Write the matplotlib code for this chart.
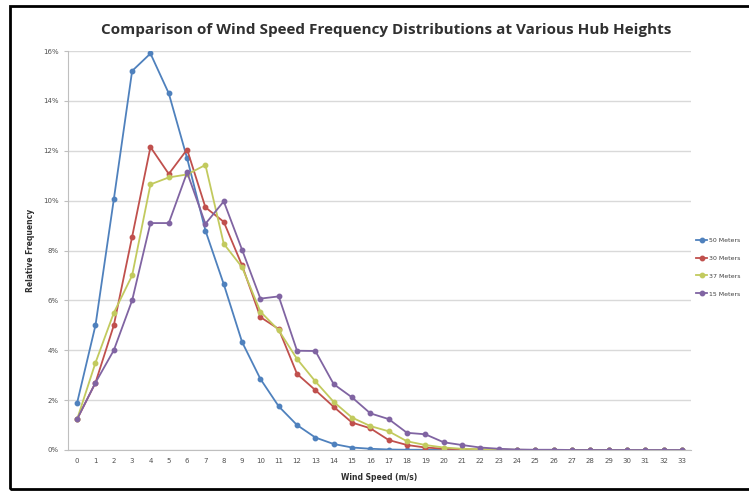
import matplotlib
matplotlib.use("Agg")
import matplotlib.pyplot as plt
from matplotlib.patches import Rectangle
from matplotlib.ticker import FuncFormatter, MultipleLocator

speeds = list(range(34))
labels = ["50 Meters", "30 Meters", "37 Meters", "15 Meters"]
s50 = [1.9, 5.0, 10.05, 15.2, 15.9, 14.3, 11.7, 8.8, 6.65, 4.33, 2.85, 1.75, 1.0, 0.5, 0.24, 0.1, 0.05,
       0.02, 0.01, 0.01, 0.0, 0.0, 0.0, 0.0, 0.0, 0.0, 0.0, 0.0, 0.0, 0.0, 0.0, 0.0, 0.0, 0.0]
s30 = [1.24, 2.7, 5.0, 8.55, 12.15, 11.07, 12.05, 9.73, 9.15, 7.4, 5.33, 4.85, 3.05, 2.4, 1.73, 1.1, 0.87,
       0.4, 0.2, 0.1, 0.05, 0.03, 0.02, 0.01, 0.0, 0.0, 0.0, 0.0, 0.0, 0.0, 0.0, 0.0, 0.0, 0.0]
s37 = [1.24, 3.5, 5.5, 7.0, 10.65, 10.93, 11.05, 11.43, 8.27, 7.33, 5.55, 4.8, 3.65, 2.75, 1.93, 1.3, 0.96,
       0.75, 0.35, 0.2, 0.1, 0.05, 0.03, 0.02, 0.01, 0.0, 0.0, 0.0, 0.0, 0.0, 0.0, 0.0, 0.0, 0.0]
s15 = [1.24, 2.7, 4.0, 6.0, 9.1, 9.1, 11.13, 9.07, 9.97, 8.03, 6.07, 6.16, 3.98, 3.97, 2.64, 2.11, 1.47,
       1.24, 0.69, 0.63, 0.31, 0.2, 0.1, 0.05, 0.02, 0.01, 0.01, 0.0, 0.0, 0.0, 0.0, 0.0, 0.0, 0.0]
series = [s50, s30, s37, s15]
colors = ["#4F81BD", "#C0504D", "#C2CA5E", "#8064A2"]

W, H = 749, 495
fig = plt.figure(figsize=(W / 100, H / 100), dpi=100)
fig.patch.set_facecolor("white")

ax = fig.add_axes([68 / W, 45 / H, (691 - 68) / W, (450 - 51) / H])
for vals, c, lab in zip(series, colors, labels):
    ax.plot(speeds, vals, color=c, lw=1.3, marker="o", ms=3.2, mfc=c, mec=c, label=lab)

ax.set_xlim(-0.5, 33.5)
ax.set_ylim(0, 16)
ax.set_xticks(speeds)
ax.set_xticklabels([str(s) for s in speeds])
ax.yaxis.set_major_locator(MultipleLocator(2))
ax.yaxis.set_major_formatter(FuncFormatter(lambda v, p: f"{int(round(v))}%"))
ax.grid(axis="y", color="#d9d9d9", lw=1.0)
ax.set_axisbelow(True)
for sp in ["top", "right"]:
    ax.spines[sp].set_visible(False)
ax.spines["left"].set_color("#bfbfbf")
ax.spines["bottom"].set_color("#bfbfbf")
ax.tick_params(axis="both", labelsize=5, colors="#505050", length=3, color="#bfbfbf")
ax.tick_params(axis="x", length=0, pad=6)
ax.set_xlabel("Wind Speed (m/s)", fontsize=5.5, fontweight="bold", color="#303030", labelpad=6)
ax.set_ylabel("Relative Frequency", fontsize=5.5, fontweight="bold", color="#303030", labelpad=6)

fig.text(386 / W, 1 - 30 / H, "Comparison of Wind Speed Frequency Distributions at Various Hub Heights",
         ha="center", va="center", fontsize=11, fontweight="bold", color="#303030",
         family="Open Sans")

ax.legend(loc="center left", bbox_to_anchor=(696 / W, 1 - 267 / H), bbox_transform=fig.transFigure,
          frameon=False, fontsize=4.5, handlelength=1.8, labelspacing=2.0, borderaxespad=0,
          handletextpad=0.3, borderpad=0, labelcolor="#404040")

fig.add_artist(Rectangle((10 / W, 6 / H), (W + 5 - 10) / W, (H - 12) / H, transform=fig.transFigure,
                         fill=False, ec="black", lw=2.0))

fig.savefig("out.png", dpi=100)
